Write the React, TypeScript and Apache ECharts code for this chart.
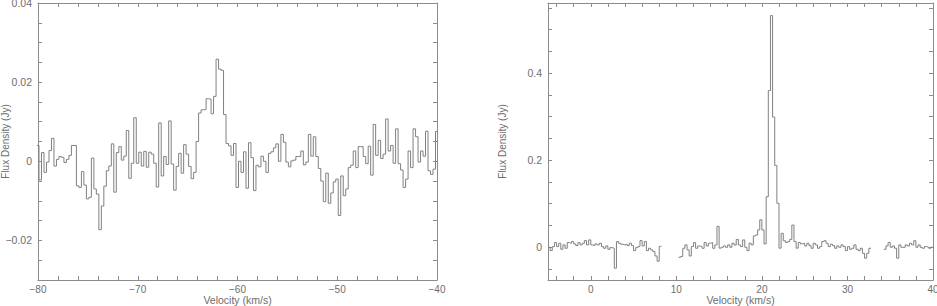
import React, { useEffect, useRef } from "react";
import * as echarts from "echarts";

// ---------- data: left spectrum (channel fluxes, Jy) ----------
const LEFT_V0 = -80.15; // start velocity of first channel (km/s)
const LEFT_DV = 0.25; // channel width (km/s)
const LEFT_FLUX = [
  0.004, -0.0047, 0.0022, -0.0028, -0.0002, 0.0027, 0.0058, -0.0012, 0.0005, 0.0012,
  0.001, -0.0003, 0.0005, 0.0015, 0.004, 0.004, -0.0062, -0.0066, -0.0026, -0.006,
  -0.0095, -0.0091, 0.0008, -0.007, -0.0083, -0.0173, -0.0113, -0.0063, -0.0024, -0.0012,
  0.0044, -0.0078, 0.0022, 0.0037, 0.0003, 0.0013, 0.0078, -0.0043, -0.0005, 0.011,
  -0.0005, 0.0023, -0.0012, 0.0025, -0.0015, 0.0023, 0.0018, -0.0005, -0.0065, 0.0097,
  -0.0037, 0.0012, -0.0008, 0.0102, -0.0007, -0.0073, -0.0013, 0.002, -0.003, 0.0042,
  0.0018, -0.0013, -0.0044, -0.0028, 0.005, 0.0122, 0.013, 0.0131, 0.0158, 0.0157,
  0.012, 0.0164, 0.0258, 0.0233, 0.023, 0.0118, 0.0045, 0.0039, 0.0015, 0.0045,
  -0.0066, 0.0, -0.0028, 0.0024, -0.0068, 0.0047, 0.0009, -0.0074, -0.001, -0.0014,
  0.0013, 0.0, -0.0028, 0.002, 0.0024, 0.0034, 0.0044, 0.0, 0.0068, 0.0048,
  -0.0002, -0.0014, 0.0001, 0.0003, 0.0012, 0.0012, 0.0026, -0.0009, -0.0002, 0.0068,
  0.0013, 0.0062, 0.0012, -0.0018, -0.005, -0.0102, -0.003, -0.0106, -0.008, -0.0052,
  -0.0045, -0.0137, -0.0037, -0.0087, -0.007, -0.0016, -0.001, 0.0026, -0.0016, 0.0037,
  0.0037, 0.0012, -0.0006, 0.0038, -0.0035, 0.0093, 0.0015, 0.0053, 0.0007, 0.0018,
  0.0107, 0.0026, 0.004, -0.0005, 0.0082, -0.0006, -0.0022, -0.0066, -0.0045, 0.0026,
  -0.0016, 0.0082, 0.0062, -0.0002, 0.0026, 0.0013, 0.0076, -0.0024, -0.0033, -0.002,
  0.0075,
];

// ---------- data: right spectrum (channel fluxes, Jy; null = no data) ----------
const RIGHT_V0 = -5;
const RIGHT_DV = 0.25;
const RIGHT_FLUX = [
  // -5 .. 8.25
  0.0, -0.0077, 0.0015, 0.0107, 0.0015, 0.0092, -0.0046, 0.0054, -0.0023, 0.0107,
  0.0092, 0.013, 0.0077, 0.0038, 0.0107, 0.0054, 0.0092, 0.0153, 0.0054, 0.0169,
  0.0054, 0.0038, 0.0077, 0.0054, 0.0092, 0.0015, -0.0023, 0.003, -0.0046, -0.0008,
  -0.0023, -0.048, 0.013, 0.0092, 0.0069, 0.0054, 0.0069, 0.0038, 0.0092, 0.0038,
  -0.0077, -0.0008, 0.0015, 0.0153, 0.003, 0.013, -0.0077, -0.0023, -0.006, -0.01,
  -0.02, -0.032, 0.002,
  // gap 8.25 .. 10.25
  null, null, null, null, null, null, null, null,
  // 10.25 .. 32.75
  -0.023, -0.021, -0.0023, 0.0054, -0.006, -0.02, 0.0015, 0.0107, -0.0023, 0.003,
  0.0015, -0.0023, 0.0107, 0.003, 0.0092, 0.0107, -0.0023, 0.0054, 0.048,
  -0.002, 0.0, 0.003, 0.0, 0.0054, 0.0, 0.0092, 0.005, 0.018, 0.0054,
  0.0015, 0.0169, 0.0, -0.0077, 0.0092, 0.0054, 0.026, 0.028, 0.04, 0.063,
  0.04, 0.0077, 0.116, 0.36, 0.532, 0.299, 0.188, 0.101, -0.002, 0.032,
  0.015, 0.011, 0.013, 0.018, 0.051, 0.013, -0.002,
  0.011, 0.0077, 0.0092, 0.003, 0.0092, 0.0038, -0.0023, 0.0092, 0.0054, -0.0023,
  0.0015, 0.013, 0.015, 0.0092, 0.0015, 0.007, 0.0038, -0.0023, 0.003, 0.0,
  0.0054, 0.0015, -0.0077, 0.0015, -0.0046, -0.0023, 0.0054, -0.0046, -0.0077, -0.0023,
  -0.014, -0.025, -0.014, -0.0023,
  // gap 32.75 .. 34.25
  null, null, null, null, null, null,
  // 34.25 .. 40
  -0.0046, 0.003, 0.011, 0.0, 0.003, -0.0023, -0.025, 0.0054, 0.0, 0.0,
  0.0054, 0.003, 0.0092, 0.0054, 0.015, 0.0, 0.0054, 0.0, -0.0023, 0.0015,
  0.0, -0.0023, 0.0,
];

// ---------- axes: ranges, tick labels, tick marks ----------
const LEFT_X_RANGE = [-80, -40];
const LEFT_Y_RANGE = [-0.03, 0.04];
const LEFT_X_LABELS = [-80, -70, -60, -50, -40];
const LEFT_Y_LABELS = [-0.02, 0, 0.02, 0.04];
const RIGHT_X_RANGE = [-5, 40];
const RIGHT_Y_RANGE = [-0.0752, 0.561];
const RIGHT_X_LABELS = [0, 10, 20, 30, 40];
const RIGHT_Y_LABELS = [0, 0.2, 0.4];

const LEFT_X_TICK_STEP = 2;
const LEFT_Y_TICK_STEP = 0.005;
const RIGHT_X_TICK_STEP = 2;
const RIGHT_Y_TICK_STEP = 0.05;

const X_NAME = "Velocity (km/s)";
const Y_NAME = "Flux Density (Jy)";

function tickList(min: number, max: number, step: number): number[] {
  const out: number[] = [];
  const start = Math.ceil(min / step - 1e-9);
  const end = Math.floor(max / step + 1e-9);
  for (let k = start; k <= end; k++) out.push(+(k * step).toFixed(6));
  return out;
}

function histogram(v0: number, dv: number, flux: (number | null)[]) {
  const pts: any[] = [];
  flux.forEach((f, i) => {
    const a = v0 + i * dv;
    if (f === null) {
      pts.push([a, "-"]);
      return;
    }
    pts.push([a, f], [a + dv, f]);
  });
  return pts;
}

const fmt = (v: number) => (v < 0 ? "\u2212" + String(+(-v).toFixed(6)) : String(+v.toFixed(6)));

const LINE = "#808080";
const AXIS = "#8c8c8c";
const TEXT = "#6e6e6e";
const FONT = "Liberation Sans";

function makeX(grid: number, range: number[], ticks: number[], labels: number[], bottom: boolean) {
  return {
    type: "value",
    gridIndex: grid,
    position: bottom ? "bottom" : "top",
    min: range[0],
    max: range[1],
    name: bottom ? X_NAME : "",
    nameLocation: "middle",
    nameGap: 14,
    nameMoveOverlap: false,
    nameTextStyle: { color: TEXT, fontFamily: FONT, fontSize: 10.5, lineHeight: 11 },
    axisLine: { show: true, onZero: false, lineStyle: { color: AXIS, width: 1 } },
    axisTick: { show: true, inside: true, length: 4, customValues: ticks, lineStyle: { color: AXIS } },
    axisLabel: {
      show: bottom,
      customValues: labels,
      margin: 4,
      color: TEXT,
      fontFamily: FONT,
      fontSize: 10,
      lineHeight: 10,
      formatter: fmt,
    },
    splitLine: { show: false },
  };
}

function makeY(grid: number, range: number[], ticks: number[], labels: number[], left: boolean, nameGap: number) {
  return {
    type: "value",
    gridIndex: grid,
    position: left ? "left" : "right",
    min: range[0],
    max: range[1],
    name: left ? Y_NAME : "",
    nameLocation: "middle",
    nameGap,
    nameRotate: 90,
    nameMoveOverlap: false,
    nameTextStyle: { color: TEXT, fontFamily: FONT, fontSize: 10 },
    axisLine: { show: true, onZero: false, lineStyle: { color: AXIS, width: 1 } },
    axisTick: { show: true, inside: true, length: 4, customValues: ticks, lineStyle: { color: AXIS } },
    axisLabel: {
      show: left,
      customValues: labels,
      margin: 6,
      color: TEXT,
      fontFamily: FONT,
      fontSize: 10.5,
      formatter: fmt,
    },
    splitLine: { show: false },
  };
}

export default function App() {
  const ref = useRef<HTMLDivElement>(null);
  useEffect(() => {
    if (!ref.current) return;
    const chart = echarts.init(ref.current, undefined, { renderer: "svg" });
    const lxt = tickList(LEFT_X_RANGE[0], LEFT_X_RANGE[1], LEFT_X_TICK_STEP);
    const lyt = tickList(LEFT_Y_RANGE[0], LEFT_Y_RANGE[1], LEFT_Y_TICK_STEP);
    const rxt = tickList(RIGHT_X_RANGE[0], RIGHT_X_RANGE[1], RIGHT_X_TICK_STEP);
    const ryt = tickList(RIGHT_Y_RANGE[0], RIGHT_Y_RANGE[1], RIGHT_Y_TICK_STEP);
    chart.setOption({
      animation: false,
      backgroundColor: "#ffffff",
      grid: [
        { left: 38, top: 3, width: 399, height: 277, containLabel: false, outerBoundsMode: "none" },
        { left: 548, top: 3, width: 385, height: 277, containLabel: false, outerBoundsMode: "none" },
      ],
      xAxis: [
        makeX(0, LEFT_X_RANGE, lxt, LEFT_X_LABELS, true),
        makeX(0, LEFT_X_RANGE, lxt, LEFT_X_LABELS, false),
        makeX(1, RIGHT_X_RANGE, rxt, RIGHT_X_LABELS, true),
        makeX(1, RIGHT_X_RANGE, rxt, RIGHT_X_LABELS, false),
      ],
      yAxis: [
        makeY(0, LEFT_Y_RANGE, lyt, LEFT_Y_LABELS, true, 28),
        makeY(0, LEFT_Y_RANGE, lyt, LEFT_Y_LABELS, false, 0),
        makeY(1, RIGHT_Y_RANGE, ryt, RIGHT_Y_LABELS, true, 41),
        makeY(1, RIGHT_Y_RANGE, ryt, RIGHT_Y_LABELS, false, 0),
      ],
      series: [
        {
          type: "line",
          xAxisIndex: 0,
          yAxisIndex: 0,
          data: histogram(LEFT_V0, LEFT_DV, LEFT_FLUX),
          showSymbol: false,
          symbol: "none",
          connectNulls: false,
          clip: true,
          lineStyle: { color: LINE, width: 1 },
        },
        {
          type: "line",
          xAxisIndex: 2,
          yAxisIndex: 2,
          data: histogram(RIGHT_V0, RIGHT_DV, RIGHT_FLUX),
          showSymbol: false,
          symbol: "none",
          connectNulls: false,
          clip: true,
          lineStyle: { color: LINE, width: 1 },
        },
      ],
    });
    return () => chart.dispose();
  }, []);
  return (
    <div
      ref={ref}
      style={{ position: "absolute", left: 0, top: 0, width: 937, height: 306, background: "#fff" }}
    />
  );
}
